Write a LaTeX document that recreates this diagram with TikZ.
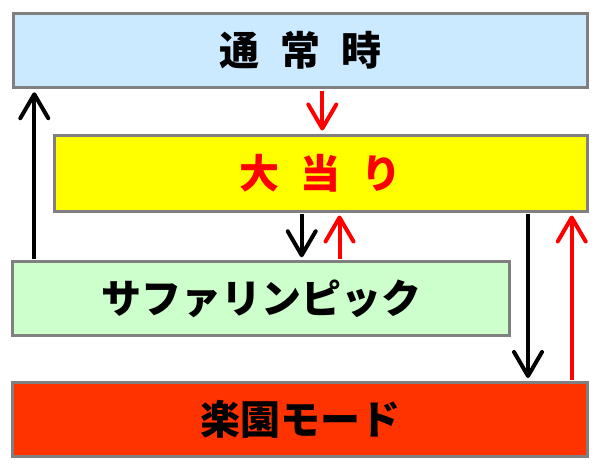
\documentclass[tikz,border=0pt]{standalone}
\usepackage{fontspec}
\newfontfamily\jpfont{Noto Sans CJK JP}
\usetikzlibrary{arrows.meta}
\definecolor{boxgray}{RGB}{128,128,128}
\definecolor{normalblue}{RGB}{204,234,255}
\definecolor{hityellow}{RGB}{255,255,0}
\definecolor{safarigreen}{RGB}{204,255,204}
\definecolor{rakuenred}{RGB}{255,51,0}
\definecolor{arrowred}{RGB}{255,0,0}
\newcommand{\jgap}{\hspace{21pt}}
\begin{document}
\begin{tikzpicture}[x=1pt,y=-1pt,
  box/.style={draw=boxgray,line width=3pt,inner sep=0pt,minimum height=74pt,
    font=\jpfont\bfseries\fontsize{40pt}{40pt}\selectfont},
  blk/.style={line width=4pt,shorten <=1.5pt,shorten >=3pt,
    -{Straight Barb[length=24pt 0 0,width=28pt 0 0,line cap=round,line join=round]}},
  redarrow/.style={blk,draw=arrowred}]
\useasboundingbox (0,0) rectangle (600,471);
% states
\node[box,fill=normalblue,minimum width=574pt] (N) at (300,50.75) {通\jgap 常\jgap 時};
\node[box,fill=hityellow,minimum width=533pt,minimum height=76pt,text=arrowred] (BH) at (320.5,173) {大\jgap 当\jgap り};
\node[box,fill=safarigreen,minimum width=497pt] (SP) at (261,298.75) {サファリンピック};
\node[box,fill=rakuenred,minimum width=575pt] (RM) at (300,419.5) {楽園モード};
% arrow columns
\coordinate (XA) at (34.3,0);
\coordinate (XB) at (322.3,0);
\coordinate (XC) at (301.7,0);
\coordinate (XD) at (339.5,0);
\coordinate (XE) at (528,0);
\coordinate (XF) at (571.7,0);
\draw[blk] (SP.north -| XA) -- (N.south -| XA);
\draw[redarrow] (N.south -| XB) -- (BH.north -| XB);
\draw[blk] (BH.south -| XC) -- (SP.north -| XC);
\draw[redarrow] (SP.north -| XD) -- (BH.south -| XD);
\draw[blk] (BH.south -| XE) -- (RM.north -| XE);
\draw[redarrow] (RM.north -| XF) -- (BH.south -| XF);
\end{tikzpicture}
\end{document}
